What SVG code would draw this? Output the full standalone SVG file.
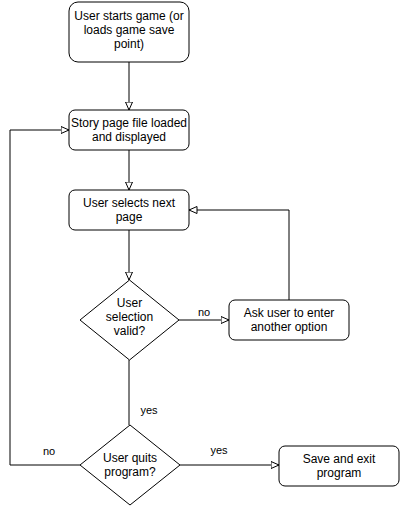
<svg xmlns="http://www.w3.org/2000/svg" width="400" height="506" viewBox="0 0 400 506">
<style>
.n{fill:#fff;stroke:#000;stroke-width:1}
.t{font-family:"Liberation Sans",Arial,sans-serif;font-size:12px;fill:#000;text-anchor:middle}
.l{font-family:"Liberation Sans",Arial,sans-serif;font-size:11px;fill:#000;text-anchor:middle}
.c{fill:none;stroke:#000;stroke-width:1}
</style>
<defs>
<marker id="a" markerWidth="10" markerHeight="10" refX="8.5" refY="4" orient="auto" markerUnits="userSpaceOnUse">
<path d="M0.5,0.5 L8.5,4 L0.5,7.5 Z" fill="#fff" stroke="#000" stroke-width="1"/>
</marker>
</defs>
<rect width="400" height="506" fill="#fff"/>
<g id="connectors">
<path class="c" d="M129,62 V110" marker-end="url(#a)"/>
<path class="c" d="M129,150 V190" marker-end="url(#a)"/>
<path class="c" d="M129,230 V280" marker-end="url(#a)"/>
<path class="c" d="M179,320 H229" marker-end="url(#a)"/>
<path class="c" d="M289,300 V210 H189" marker-end="url(#a)"/>
<path class="c" d="M129,360 V425"/>
<path class="c" d="M80,465 H10 V130 H69" marker-end="url(#a)"/>
<path class="c" d="M180,465 H279" marker-end="url(#a)"/>
<text class="l" x="204" y="316">no</text>
<text class="l" x="149" y="414">yes</text>
<text class="l" x="49" y="455">no</text>
<text class="l" x="219" y="454">yes</text>
</g>
<g id="start">
<rect class="n" x="69" y="2" width="120" height="60" rx="9"/>
<text class="t" x="129" y="20">User starts game (or</text>
<text class="t" x="129" y="34">loads game save</text>
<text class="t" x="129" y="48">point)</text>
</g>
<g id="story">
<rect class="n" x="69" y="110" width="120" height="40" rx="6"/>
<text class="t" x="129" y="127">Story page file loaded</text>
<text class="t" x="129" y="141">and displayed</text>
</g>
<g id="select">
<rect class="n" x="69" y="190" width="120" height="40" rx="6"/>
<text class="t" x="129" y="207">User selects next</text>
<text class="t" x="129" y="221">page</text>
</g>
<g id="valid">
<path class="n" d="M129.5,280 L179,320 L129.5,360 L80,320 Z"/>
<text class="t" x="129.5" y="307">User</text>
<text class="t" x="129.5" y="321">selection</text>
<text class="t" x="129.5" y="335">valid?</text>
</g>
<g id="ask">
<rect class="n" x="229" y="300" width="120" height="40" rx="6"/>
<text class="t" x="289" y="317">Ask user to enter</text>
<text class="t" x="289" y="331">another option</text>
</g>
<g id="quit">
<path class="n" d="M130,425 L180,465 L130,505 L80,465 Z"/>
<text class="t" x="130" y="462">User quits</text>
<text class="t" x="130" y="476">program?</text>
</g>
<g id="save">
<rect class="n" x="279" y="446" width="120" height="40" rx="6"/>
<text class="t" x="339" y="463">Save and exit</text>
<text class="t" x="339" y="477">program</text>
</g>
</svg>
